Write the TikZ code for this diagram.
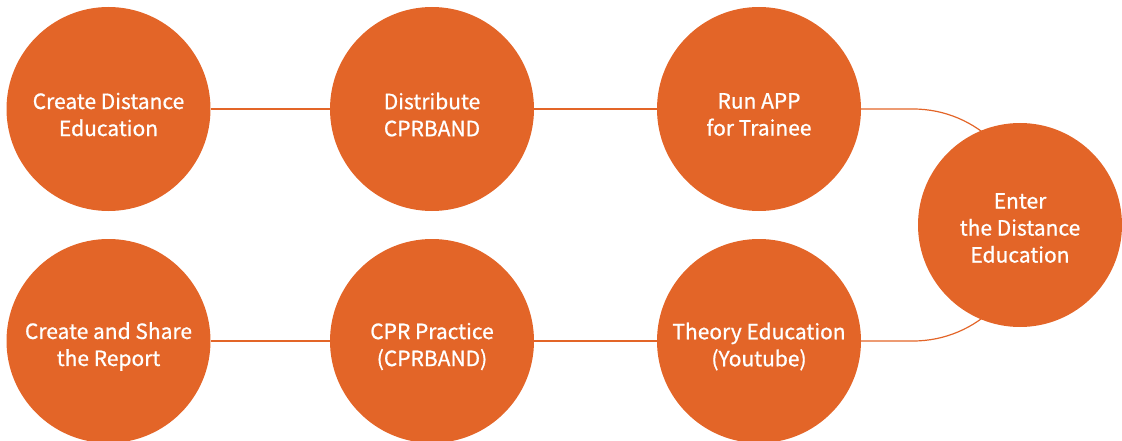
\documentclass[tikz,border=0pt]{standalone}
\usepackage{fontspec}
\setmainfont{Noto Sans CJK KR}[FakeBold=0.8]
\usetikzlibrary{backgrounds}
\definecolor{stepfill}{RGB}{227,101,40}
\tikzset{
    stage/.style={circle, fill=stepfill, minimum size=204pt, inner sep=0pt,
        label={[stagetext, yshift=-#1]center:{\stagename}}},
    stage/.default=5.5pt,
    stagetext/.style={text=white, align=center, inner sep=0pt,
        font=\fontsize{21}{27}\selectfont},
    link/.style={draw=stepfill, line width=1.2pt},
}
\newcommand\stagename{}
\begin{document}
\begin{tikzpicture}[x=1pt, y=-1pt]
    \useasboundingbox (0,0) rectangle (1122,441);
    % top row
    \renewcommand\stagename{Create Distance\\Education}
    \node[stage] (create) at (108.5,109) {};
    \renewcommand\stagename{Distribute\\CPRBAND}
    \node[stage] (distribute) at (432,109) {};
    \renewcommand\stagename{Run APP\\for Trainee}
    \node[stage] (runapp) at (759,109) {};
    % right
    \renewcommand\stagename{Enter\\the Distance\\Education}
    \node[stage=3pt] (enter) at (1020,225) {};
    % bottom row
    \renewcommand\stagename{Theory Education\\(Youtube)}
    \node[stage] (theory) at (759,341) {};
    \renewcommand\stagename{CPR Practice\\(CPRBAND)}
    \node[stage] (practice) at (432,341) {};
    \renewcommand\stagename{Create and Share\\the Report}
    \node[stage] (report) at (108.5,341) {};
    \begin{scope}[on background layer]
        \draw[link] (create) -- (distribute) -- (runapp);
        \draw[link] (runapp.east) -- (913,109)
            arc[start angle=-90, end angle=90, radius=116] -- (theory.east);
        \draw[link] (theory) -- (practice) -- (report);
    \end{scope}
\end{tikzpicture}
\end{document}
